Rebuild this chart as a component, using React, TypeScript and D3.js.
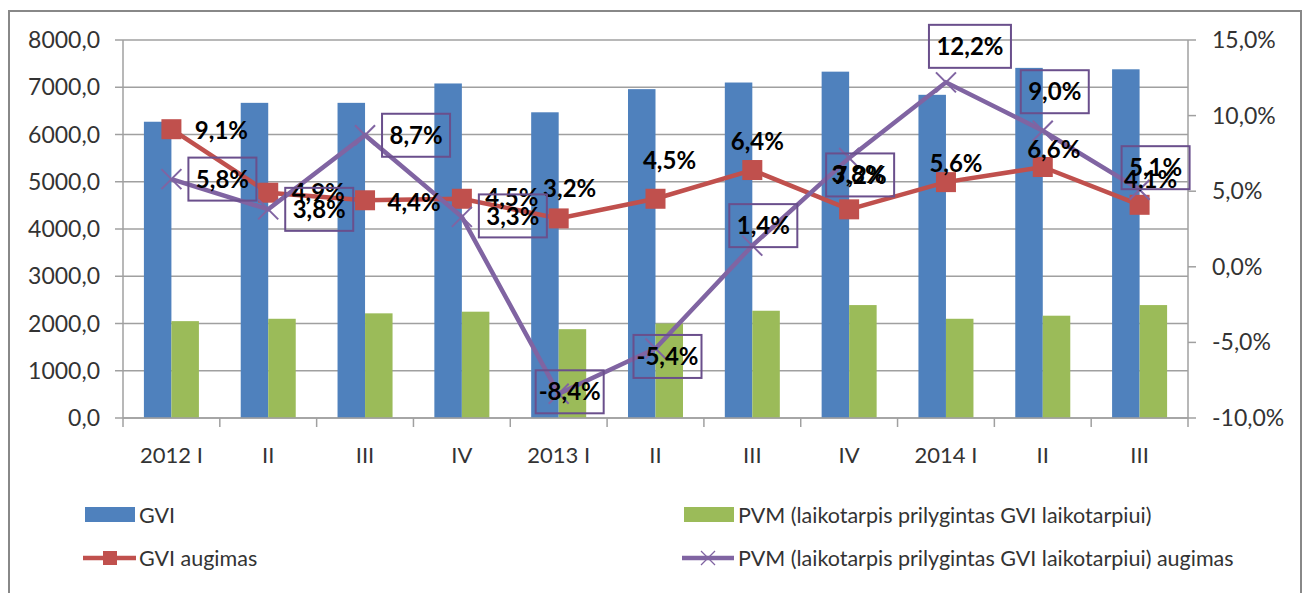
import * as d3 from "d3";

// quarters shown on the x axis
const quarters = ["2012 I", "II", "III", "IV", "2013 I", "II", "III", "IV", "2014 I", "II", "III"];

// bar series (left axis)
const gvi = [6270, 6670, 6670, 7080, 6470, 6960, 7100, 7330, 6840, 7410, 7380];
const pvm = [2050, 2100, 2215, 2250, 1880, 2000, 2270, 2390, 2100, 2165, 2390];

// growth series, % (right axis)
const gviGrowth = [9.1, 4.9, 4.4, 4.5, 3.2, 4.5, 6.4, 3.8, 5.6, 6.6, 4.1];
const pvmGrowth = [5.8, 3.8, 8.7, 3.3, -8.4, -5.4, 1.4, 7.2, 12.2, 9.0, 5.1];

const leftTicks = [0, 1000, 2000, 3000, 4000, 5000, 6000, 7000, 8000];
const rightTicks = [-10, -5, 0, 5, 10, 15];

const seriesNames = ["GVI", "PVM (laikotarpis prilygintas GVI laikotarpiui)"];
const lineNames = ["GVI augimas", "PVM (laikotarpis prilygintas GVI laikotarpiui) augimas"];

// where the data labels sit relative to their point (px)
const redLabelOffset = [[50, 1], [50, 0], [49, 2], [50, -1], [11, -30], [14, -38], [5, -29], [9, -35], [10, -19], [11, -18], [11, -25]];
const purpleLabelOffset = [[51, 0], [51, 0], [51, 0], [51, -1], [11, -2], [12, 8], [11, -20], [11, 17], [24, -36], [12, -39], [16, -22]];

const BLUE = "#4F81BD";
const GREEN = "#9BBB59";
const RED = "#C0504D";
const PURPLE = "#8064A2";
const GRID = "#a0a0a0";
const FONT = "Lato, 'Open Sans', sans-serif";

// excel style numbers: decimal comma, plain hyphen for minus
const comma = (v: number) => d3.format(".1f")(v).replace(".", ",").replace("\u2212", "-");

export default function App() {
  const margin = { top: 40, left: 123, right: 1188, bottom: 418 };

  const x = d3.scaleBand<number>()
    .domain(d3.range(quarters.length))
    .range([margin.left, margin.right])
    .padding(0);
  const x1 = d3.scaleBand<string>()
    .domain(["gvi", "pvm"])
    .range([0, x.bandwidth()])
    .paddingInner(0)
    .paddingOuter(0.76);
  const y = d3.scaleLinear().domain([0, 8000]).range([margin.bottom, margin.top]);
  const y2 = d3.scaleLinear().domain([-10, 15]).range([margin.bottom, margin.top]);

  const cx = (i: number) => (x(i) as number) + x.bandwidth() / 2;

  const growthLine = d3.line<number>().x((_, i) => cx(i)).y((d) => y2(d));

  const boxW = 68;
  const boxH = 43;

  const xMark = (px: number, py: number, s: number, key: string | number, sw = 2) => (
    <g key={key} stroke={PURPLE} strokeWidth={sw}>
      <line x1={px - s} y1={py - s} x2={px + s} y2={py + s} />
      <line x1={px - s} y1={py + s} x2={px + s} y2={py - s} />
    </g>
  );

  return (
    <svg width={1307} height={593} style={{ position: "absolute", left: 0, top: 0, background: "#fff" }}>
      {/* chart frame */}
      <rect x={9} y={11} width={1292} height={620} fill="#fff" stroke="#888" strokeWidth={2} />

      {/* gridlines */}
      {leftTicks.map((t) => (
        <line key={"g" + t} x1={margin.left} x2={margin.right} y1={y(t)} y2={y(t)} stroke={GRID} strokeWidth={1.5} />
      ))}

      {/* left axis */}
      <line x1={margin.left} x2={margin.left} y1={margin.top} y2={margin.bottom} stroke={GRID} strokeWidth={1.5} />
      {leftTicks.map((t) => (
        <g key={"l" + t}>
          <line x1={margin.left - 8} x2={margin.left} y1={y(t)} y2={y(t)} stroke={GRID} strokeWidth={1.5} />
          <text x={100} y={y(t)} dy="0.35em" textAnchor="end" fontFamily={FONT} fontSize={23} fill="#333">
            {comma(t)}
          </text>
        </g>
      ))}

      {/* right axis */}
      <line x1={margin.right} x2={margin.right} y1={margin.top} y2={margin.bottom} stroke={GRID} strokeWidth={1.5} />
      {rightTicks.map((t) => (
        <g key={"r" + t}>
          <line x1={margin.right} x2={margin.right + 8} y1={y2(t)} y2={y2(t)} stroke={GRID} strokeWidth={1.5} />
          <text x={1212} y={y2(t)} dy="0.35em" textAnchor="start" fontFamily={FONT} fontSize={23} fill="#333">
            {comma(t) + "%"}
          </text>
        </g>
      ))}

      {/* bars */}
      {quarters.map((_, i) => (
        <g key={"b" + i} transform={`translate(${x(i)},0)`}>
          <rect x={x1("gvi")} y={y(gvi[i])} width={x1.bandwidth()} height={y(0) - y(gvi[i])} fill={BLUE} />
          <rect x={x1("pvm")} y={y(pvm[i])} width={x1.bandwidth()} height={y(0) - y(pvm[i])} fill={GREEN} />
        </g>
      ))}

      {/* x axis */}
      <line x1={margin.left} x2={margin.right} y1={y(0)} y2={y(0)} stroke={GRID} strokeWidth={1.5} />
      {d3.range(quarters.length + 1).map((i) => {
        const bx = margin.left + i * x.step();
        return <line key={"xt" + i} x1={bx} x2={bx} y1={y(0)} y2={y(0) + 9} stroke={GRID} strokeWidth={1.5} />;
      })}
      {quarters.map((q, i) => (
        <text key={"xl" + i} x={cx(i)} y={455} dy="0.35em" textAnchor="middle" fontFamily={FONT} fontSize={22} fill="#333">
          {q}
        </text>
      ))}

      {/* growth lines */}
      <path d={growthLine(gviGrowth) ?? ""} fill="none" stroke={RED} strokeWidth={4.5} />
      {gviGrowth.map((d, i) => (
        <rect key={"rm" + i} x={cx(i) - 10} y={y2(d) - 10} width={20} height={20} fill={RED} />
      ))}
      <path d={growthLine(pvmGrowth) ?? ""} fill="none" stroke={PURPLE} strokeWidth={4.5} />
      {pvmGrowth.map((d, i) => xMark(cx(i), y2(d), 10, "pm" + i))}

      {/* red data labels */}
      {gviGrowth.map((d, i) => (
        <text key={"rl" + i} x={cx(i) + redLabelOffset[i][0]} y={y2(d) + redLabelOffset[i][1]} dy="0.36em"
          textAnchor="middle" fontFamily={FONT} fontWeight="bold" fontSize={24} fill="#000">
          {comma(d) + "%"}
        </text>
      ))}

      {/* purple boxed data labels (outline only, no fill) */}
      {pvmGrowth.map((d, i) => {
        const w = d >= 10 ? boxW + 14 : boxW;
        const bx = cx(i) + purpleLabelOffset[i][0];
        const by = y2(d) + purpleLabelOffset[i][1];
        return (
          <g key={"pl" + i}>
            <rect x={bx - w / 2} y={by - boxH / 2} width={w} height={boxH} fill="none" stroke="#6a4f8c" strokeWidth={2} />
            <text x={bx} y={by} dy="0.36em" textAnchor="middle" fontFamily={FONT} fontWeight="bold" fontSize={24} fill="#000">
              {comma(d) + "%"}
            </text>
          </g>
        );
      })}

      {/* legend */}
      <rect x={85} y={507} width={50} height={15} fill={BLUE} />
      <text x={139} y={515} dy="0.35em" fontFamily={FONT} fontSize={21.5} fill="#333">{seriesNames[0]}</text>
      <rect x={684} y={507} width={50} height={15} fill={GREEN} />
      <text x={738} y={515} dy="0.35em" fontFamily={FONT} fontSize={21.5} fill="#333">{seriesNames[1]}</text>

      <line x1={83} x2={136} y1={558} y2={558} stroke={RED} strokeWidth={4.5} />
      <rect x={103} y={551} width={14} height={14} fill={RED} />
      <text x={139} y={558} dy="0.35em" fontFamily={FONT} fontSize={21.5} fill="#333">{lineNames[0]}</text>

      <line x1={682} x2={734} y1={558} y2={558} stroke={PURPLE} strokeWidth={4.5} />
      {xMark(708, 558, 7, "legx", 1.2)}
      <text x={738} y={558} dy="0.35em" fontFamily={FONT} fontSize={21.5} fill="#333">{lineNames[1]}</text>
    </svg>
  );
}
